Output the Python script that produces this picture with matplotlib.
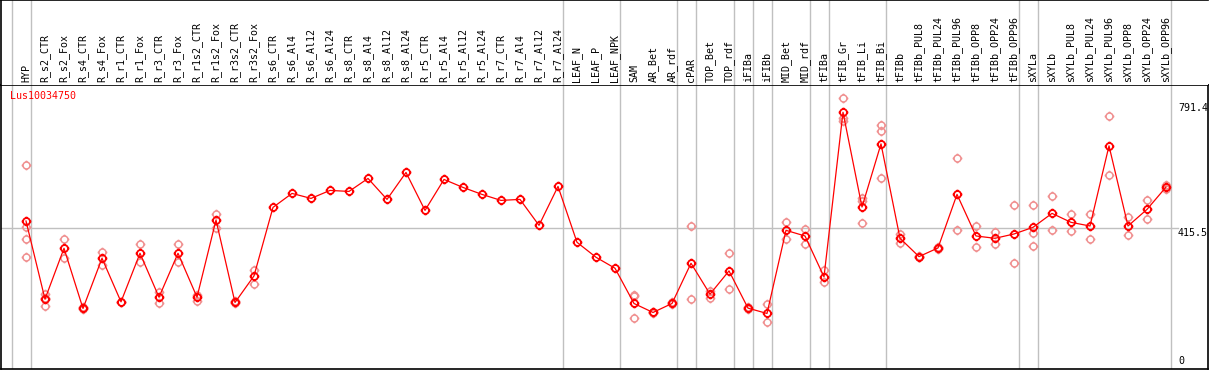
import matplotlib
matplotlib.use("Agg")
import matplotlib.pyplot as plt
import numpy as np
from matplotlib.path import Path

gene = "Lus10034750"

samples = ["HYP", "R_s2_CTR", "R_s2_Fox", "R_s4_CTR", "R_s4_Fox", "R_r1_CTR", "R_r1_Fox",
           "R_r3_CTR", "R_r3_Fox", "R_r1s2_CTR", "R_r1s2_Fox", "R_r3s2_CTR", "R_r3s2_Fox",
           "R_s6_CTR", "R_s6_Al4", "R_s6_Al12", "R_s6_Al24", "R_s8_CTR", "R_s8_Al4",
           "R_s8_Al12", "R_s8_Al24", "R_r5_CTR", "R_r5_Al4", "R_r5_Al12", "R_r5_Al24",
           "R_r7_CTR", "R_r7_Al4", "R_r7_Al12", "R_r7_Al24", "LEAF_N", "LEAF_P", "LEAF_NPK",
           "SAM", "AR_Bet", "AR_rdf", "cPAR", "TOP_Bet", "TOP_rdf", "iFIBa", "iFIBb",
           "MID_Bet", "MID_rdf", "tFIBa", "tFIB_Gr", "tFIB_Li", "tFIB_Bi", "tFIBb",
           "tFIBb_PUL8", "tFIBb_PUL24", "tFIBb_PUL96", "tFIBb_OPP8", "tFIBb_OPP24",
           "tFIBb_OPP96", "sXYLa", "sXYLb", "sXYLb_PUL8", "sXYLb_PUL24", "sXYLb_PUL96",
           "sXYLb_OPP8", "sXYLb_OPP24", "sXYLb_OPP96"]

means = [436, 201, 354, 173, 324, 193, 339, 207, 339, 207,
         439, 191, 271, 477, 519, 504, 528, 525, 564, 501,
         582, 468, 561, 537, 516, 498, 501, 423, 540, 372,
         327, 294, 188, 161, 188, 309, 216, 286, 174, 158,
         408, 391, 268, 763, 478, 668, 384, 329, 355, 516,
         391, 384, 397, 417, 459, 432, 421, 662, 421, 471, 538]

reps = [[604, 419, 381, 327], [218, 181, 205], [381, 325], [176, 170], [343, 304],
        [193], [366, 312], [223, 188], [366, 312], [213, 196], [457, 416], [194, 189],
        [289, 248], [], [], [], [], [], [], [], [], [], [], [], [], [], [], [], [],
        [], [], [], [213, 143, 210], [163, 159], [192, 185], [420, 201], [225, 203],
        [340, 231], [176, 172], [186, 131], [433, 381], [412, 368], [288, 252],
        [805, 745, 736], [504, 429, 495], [725, 708, 564], [397, 369], [331, 327],
        [357, 353], [624, 408], [421, 357], [404, 366], [483, 309], [483, 401, 361],
        [510, 408], [456, 405], [456, 383], [752, 573], [449, 394], [499, 442], [544, 532]]

# group separators come after these sample indices
group_ends = [-1, 0, 28, 31, 34, 35, 37, 38, 39, 41, 42, 45, 52, 53, 60]

ref_value = 415.5
max_label = 791.4

# circle marker with four little ticks
circ = Path.unit_circle()
ticks = Path([(1, 0), (1.4, 0), (-1, 0), (-1.4, 0), (0, 1), (0, 1.4), (0, -1), (0, -1.4)],
             [Path.MOVETO, Path.LINETO] * 4)
mk = Path.make_compound_path(circ, ticks)

mono = "DejaVu Sans Mono"
fs = 7.2

W, H = 1209, 370
fig = plt.figure(figsize=(W / 100, H / 100), dpi=100)
x0 = 1 / W
w = 1207 / W
ax = fig.add_axes([x0, 1 / H, w, 284 / H])
lab = fig.add_axes([x0, 285 / H, w, 85 / H])

xlim = ((1 - 26) / 19, (1208 - 26) / 19)
x = np.arange(len(samples))

for a in (ax, lab):
    a.set_xlim(*xlim)
    a.set_xticks([])
    a.set_yticks([])
    for k in group_ends:
        a.axvline(k + 0.25, color="#c0c0c0", lw=1, zorder=0)
ax.set_ylim(-9, 845)
lab.set_ylim(0, 1)
lab.spines["bottom"].set_visible(False)
lab.spines["right"].set_visible(False)
for a in (ax, lab):
    for s in a.spines.values():
        s.set_linewidth(1.2)

for i, name in enumerate(samples):
    lab.text(i, 3 / 85, name, rotation=90, ha="center", va="bottom",
             family=mono, fontsize=fs)

ax.axhline(ref_value, xmin=0, xmax=0.975, color="#c0c0c0", lw=1, zorder=0)

rx = [i for i, r in enumerate(reps) for _ in r]
ry = [v for r in reps for v in r]
ax.plot(rx, ry, ls="none", marker=mk, ms=7, mfc="none", mec="#f09090", mew=1.1, zorder=2)
ax.plot(x, means, color="red", lw=0.9, marker=mk, ms=7, mfc="none", mec="red",
        mew=1.3, zorder=3)

tx = (1178 - 26) / 19
ax.text(tx, max_label, f"{max_label}", ha="left", va="top", family=mono, fontsize=fs)
ax.text(tx, ref_value, f"{ref_value}", ha="left", va="top", family=mono, fontsize=fs)
ax.text(tx, 0, "0", ha="left", va="bottom", family=mono, fontsize=fs)

fig.text(10 / W, 1 - 91 / H, gene, color="red", ha="left", va="top",
         family=mono, fontsize=fs)

fig.savefig("out.png", dpi=100)
